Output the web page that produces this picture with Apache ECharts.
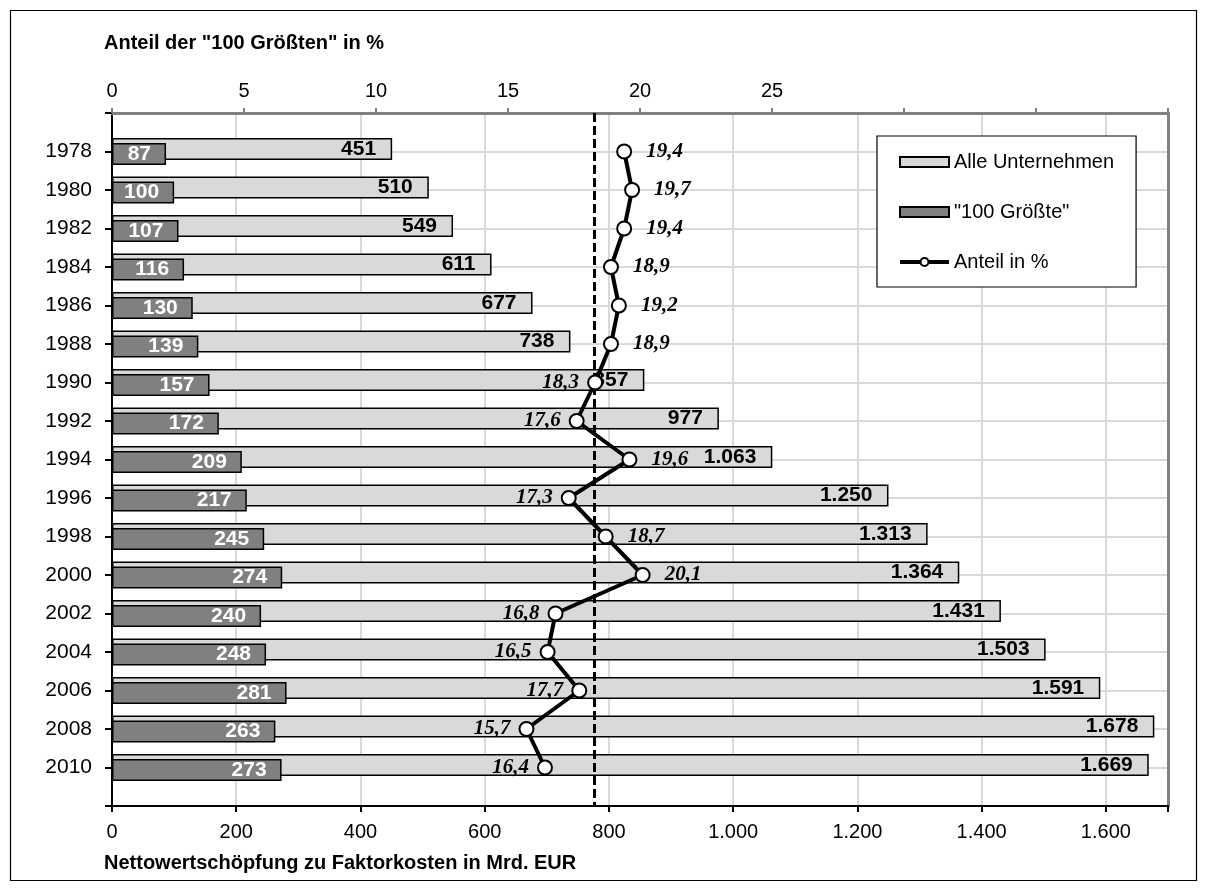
<!DOCTYPE html>
<html>
<head>
<meta charset="utf-8">
<script src="https://cdn.jsdelivr.net/npm/echarts@6/dist/echarts.min.js"></script>
<style>
html,body{margin:0;padding:0;background:#fff;}
#chart{width:1207px;height:891px;}
</style>
</head>
<body>
<div id="chart"></div>
<script>
// ---- data ----
const years = ['1978','1980','1982','1984','1986','1988','1990','1992','1994','1996','1998','2000','2002','2004','2006','2008','2010'];
const alleUnternehmen = [451, 510, 549, 611, 677, 738, 857, 977, 1063, 1250, 1313, 1364, 1431, 1503, 1591, 1678, 1669];
const groesste100 = [87, 100, 107, 116, 130, 139, 157, 172, 209, 217, 245, 274, 240, 248, 281, 263, 273];
const anteilProzent = [19.4, 19.7, 19.4, 18.9, 19.2, 18.9, 18.3, 17.6, 19.6, 17.3, 18.7, 20.1, 16.8, 16.5, 17.7, 15.7, 16.4];
const topTickMaxLabel = 25;

// ---- option building ----
const SANS = '"Liberation Sans", Arial, sans-serif';
const SERIF = '"Liberation Serif", "Times New Roman", serif';
const pad = arr => ['-'].concat(arr, ['-']);
const categories = [''].concat(years, ['']);
const fmtDE = v => {
  const s = String(Math.round(v));
  return s.replace(/\B(?=(\d{3})+(?!\d))/g, '.');
};
const leftLabelYears = new Set(['1990','1992','1996','2002','2004','2006','2008','2010']);

const lineData = ['-'].concat(anteilProzent.map((v, i) => ({
  value: v,
  label: leftLabelYears.has(years[i]) ? {position: 'left', distance: 8} : {position: 'right', distance: 14}
})), ['-']);

const chart = echarts.init(document.getElementById('chart'), null, {renderer: 'canvas'});
const option = {
  backgroundColor: '#fff',
  animation: false,
  grid: {left: 112, right: 39, top: 113, bottom: 85, containLabel: false},
  graphic: [
    {type: 'rect', shape: {x: 10.5, y: 10.5, width: 1186, height: 870}, style: {fill: 'none', stroke: '#000', lineWidth: 1.2}, z: -1},
    {type: 'text', left: 104, top: 33, style: {text: 'Anteil der "100 Größten" in %', font: 'bold 20px ' + SANS, fill: '#000'}},
    {type: 'text', left: 104, top: 853, style: {text: 'Nettowertschöpfung zu Faktorkosten in Mrd. EUR', font: 'bold 20px ' + SANS, fill: '#000'}}
  ],
  legend: {
    orient: 'vertical',
    left: 877, top: 136,
    backgroundColor: '#fff',
    borderColor: '#000', borderWidth: 1.2,
    padding: [16, 22, 15, 21],
    itemWidth: 49, itemHeight: 10, itemGap: 30,
    textStyle: {fontFamily: SANS, fontSize: 20, color: '#000'},
    data: [
      {name: 'Alle Unternehmen', icon: 'rect'},
      {name: '"100 Größte"', icon: 'rect'},
      {name: 'Anteil in %',
        lineStyle: {color: '#000', width: 4},
        itemStyle: {color: '#fff', borderColor: '#000', borderWidth: 2}}
    ]
  },
  xAxis: [
    {
      type: 'value', position: 'bottom', min: 0, max: 1700, interval: 200,
      axisLine: {show: true, onZero: false, lineStyle: {color: '#000', width: 2}},
      axisTick: {show: true, length: 6, lineStyle: {color: '#000', width: 2}},
      axisLabel: {fontFamily: SANS, fontSize: 20, color: '#000', margin: 16,
        formatter: v => (v % 200 === 0 ? fmtDE(v) : '')},
      splitLine: {show: true, lineStyle: {color: '#d9d9d9', width: 2}}
    },
    {
      type: 'value', position: 'top', min: 0, max: 40, interval: 5,
      axisLine: {show: true, onZero: false, lineStyle: {color: '#808080', width: 3}},
      axisTick: {show: true, length: 5, lineStyle: {color: '#808080', width: 2}},
      axisLabel: {fontFamily: SANS, fontSize: 20, color: '#000', margin: 12,
        formatter: v => (v <= topTickMaxLabel ? String(v) : '')},
      splitLine: {show: false}
    }
  ],
  yAxis: [
    {
      type: 'category', inverse: true, boundaryGap: false, data: categories,
      axisLine: {show: true, onZero: false, lineStyle: {color: '#000', width: 2}},
      axisTick: {show: true, interval: 0, length: 7, lineStyle: {color: '#000', width: 2}},
      axisLabel: {interval: 0, fontFamily: SANS, fontSize: 21, color: '#000', margin: 20},
      splitLine: {show: true, interval: 0, lineStyle: {color: '#d9d9d9', width: 2}}
    },
    {
      type: 'category', inverse: true, boundaryGap: false, data: categories, position: 'right',
      axisLine: {show: true, onZero: false, lineStyle: {color: '#808080', width: 3}},
      axisTick: {show: false}, axisLabel: {show: false}, splitLine: {show: false}
    }
  ],
  series: [
    {
      name: 'Alle Unternehmen', type: 'bar', xAxisIndex: 0, yAxisIndex: 0,
      data: pad(alleUnternehmen), barWidth: 22, barGap: '-77%',
      itemStyle: {color: '#d9d9d9', borderColor: '#000', borderWidth: 1.5},
      label: {show: true, position: 'insideRight', distance: 16, color: '#000',
        fontFamily: SANS, fontSize: 21, fontWeight: 'bold', formatter: p => fmtDE(p.value)},
      z: 2
    },
    {
      name: '"100 Größte"', type: 'bar', xAxisIndex: 0, yAxisIndex: 0,
      data: pad(groesste100), barWidth: 22, barGap: '-77%',
      itemStyle: {color: '#808080', borderColor: '#000', borderWidth: 1.5},
      label: {show: true, position: 'insideRight', distance: 15, color: '#fff',
        fontFamily: SANS, fontSize: 21, fontWeight: 'bold', formatter: p => fmtDE(p.value)},
      z: 3
    },
    {
      name: 'Anteil in %', type: 'line', xAxisIndex: 1, yAxisIndex: 0,
      data: lineData,
      symbol: 'circle', symbolSize: 14, showAllSymbol: true,
      lineStyle: {color: '#000', width: 4},
      itemStyle: {color: '#fff', borderColor: '#000', borderWidth: 2},
      label: {show: true, color: '#000', fontFamily: SERIF, fontSize: 21,
        fontStyle: 'italic', fontWeight: 'bold',
        formatter: p => Number(p.value).toFixed(1).replace('.', ',')},
      markLine: {
        symbol: 'none', silent: true, label: {show: false},
        lineStyle: {color: '#000', width: 3, type: [9, 4]},
        data: [{type: 'average', valueDim: 'x'}]
      },
      z: 5
    }
  ]
};
chart.setOption(option);
</script>
</body>
</html>
